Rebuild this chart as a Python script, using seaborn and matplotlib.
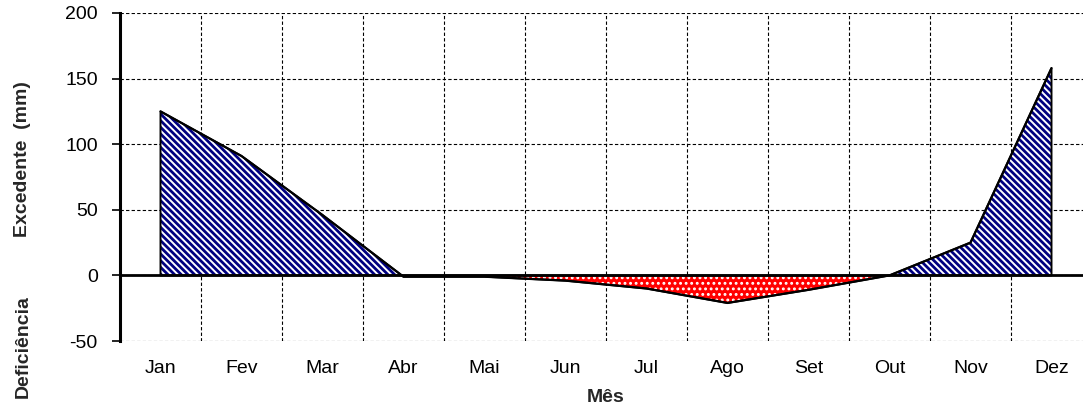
import numpy as np
import pandas as pd
import matplotlib
matplotlib.use("Agg")
import matplotlib.pyplot as plt
import seaborn as sns

months = ["Jan", "Fev", "Mar", "Abr", "Mai", "Jun", "Jul", "Ago", "Set", "Out", "Nov", "Dez"]
balance = [125, 91, 46, -1, -1, -4, -10, -21, -11, 0, 25, 158]
y_ticks = [-50, 0, 50, 100, 150, 200]

sns.set_theme(style="white")
plt.rcParams["font.family"] = ["Liberation Sans", "DejaVu Sans"]
plt.rcParams["axes.unicode_minus"] = False

W, H = 1083, 418
fig = plt.figure(figsize=(W / 100, H / 100), dpi=100)
ax = fig.add_axes([120 / W, 1 - 341 / H, 972 / W, 328 / H])

pos = np.arange(len(months))
yv = np.array(balance, dtype=float)
df = pd.DataFrame({"pos": pos, "val": yv})

# grid
ax.set_xticks(pos)
ax.set_xticks(pos[:-1] + 0.5, minor=True)
ax.set_yticks(y_ticks)
ax.grid(False)
ax.grid(True, which="major", axis="y", color="black", linestyle=(0, (3, 2)), linewidth=0.8, zorder=0)
ax.grid(True, which="minor", axis="x", color="black", linestyle=(0, (3, 2)), linewidth=0.8, zorder=0)
ax.set_axisbelow(True)

# fills
plt.rcParams["hatch.linewidth"] = 2.0
ax.fill_between(pos, yv, 0, where=yv > 0, interpolate=True, facecolor="white",
                edgecolor="#000080", hatch="\\\\\\\\\\", linewidth=0, zorder=2)
plt.rcParams["hatch.linewidth"] = 1.3
ax.fill_between(pos, yv, 0, where=yv < 0, interpolate=True, facecolor="#ff0000",
                edgecolor="white", hatch="...", linewidth=0, zorder=2)
ax.fill_between(pos, yv, 0, where=yv > 0, interpolate=True, facecolor="none",
                edgecolor="black", linewidth=1.4, zorder=3)
ax.fill_between(pos, yv, 0, where=yv < 0, interpolate=True, facecolor="none",
                edgecolor="black", linewidth=1.4, zorder=3)

sns.lineplot(data=df, x="pos", y="val", color="black", linewidth=1.6, ax=ax, zorder=4)
ax.axhline(0, color="black", linewidth=2.0, zorder=5)

ax.set_xlim(-0.5, 11.5)
ax.set_ylim(-50, 200)
ax.set_xticklabels(months)
ax.set_xlabel("Mês", fontsize=14, fontweight="bold", labelpad=8)
ax.set_ylabel("")

for s in ["top", "right", "bottom"]:
    ax.spines[s].set_visible(False)
ax.spines["left"].set_color("black")
ax.spines["left"].set_linewidth(2.2)
ax.spines["left"].set_zorder(6)

ax.tick_params(axis="y", which="major", direction="out", length=6, width=1.2,
               color="black", left=True, labelsize=14, pad=10, labelcolor="black")
ax.tick_params(axis="x", which="both", length=0, labelsize=14, pad=14, labelcolor="black")

fig.text(23 / W, 1 - 159 / H, "Excedente  (mm)", rotation=90, ha="center", va="center",
         fontsize=14, fontweight="bold")
fig.text(23 / W, 1 - 347 / H, "Deficiência", rotation=90, ha="center", va="center",
         fontsize=14, fontweight="bold")

fig.savefig("out.png", dpi=100)
